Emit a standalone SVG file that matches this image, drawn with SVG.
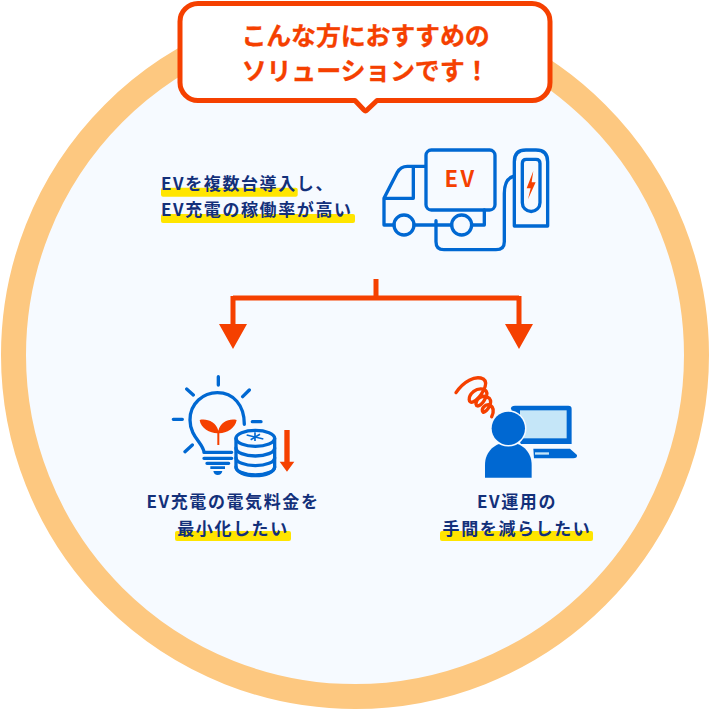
<svg xmlns="http://www.w3.org/2000/svg" width="710" height="710" viewBox="0 0 710 710">
<style>
text{font-family:"Noto Sans CJK JP","Noto Sans",sans-serif;font-weight:700}
.h{font-size:25px;fill:#f54000;letter-spacing:-.2px;text-anchor:middle;stroke:#f54000;stroke-width:.3px}
.t{font-size:17px;fill:#13307a;letter-spacing:1.6px}
.m{text-anchor:middle}
.y{fill:#ffe500}
.b{fill:none;stroke:#0068d2;stroke-width:10;stroke-linecap:round;stroke-linejoin:round}
.o{fill:#f54000}
</style>
<circle cx="355" cy="355" r="341.5" fill="#f6faff" stroke="#fdc880" stroke-width="25"/>
<g id="callout">
<path d="M198 3.500H532A18 18 0 0 1 550 21.500V82.500A18 18 0 0 1 532 100.500H377L367 110Q365.500 111.500 364 110L355 100.500H198A18 18 0 0 1 180 82.500V21.500A18 18 0 0 1 198 3.500Z" fill="#fff" stroke="#f54000" stroke-width="5" stroke-linejoin="round"/>
<text class="h" x="365.500" y="45">こんな方におすすめの</text>
<text class="h" x="365.500" y="80">ソリューションです！</text>
</g>
<g id="node-top">
<rect class="y" x="161" y="187.700" width="136.700" height="9" rx="2"/>
<rect class="y" x="161" y="214" width="194" height="9" rx="2"/>
<text class="t" x="161" y="190">EVを複数台導入し、</text>
<text class="t" x="161" y="216">EV充電の稼働率が高い</text>
<g id="truck" transform="translate(370 135) scale(.3333)">
<rect class="b" x="168" y="45" width="207" height="180" rx="16"/>
<path class="b" d="M165 94H112Q92 94 82 112L42 190V270H72M132 270H245M305 270H343V225M130 94V190H42"/>
<circle class="b" cx="102" cy="270" r="30"/>
<circle class="b" cx="275" cy="270" r="30"/>
<path class="b" d="M198 257V320Q198 344 222 344H378Q403 344 403 320V175Q403 132 430 124"/>
<path class="b" d="M433 273V80Q433 45 468 45H498Q533 45 533 80V273Z"/>
<path class="b" d="M457 85Q457 73 469 73H498Q510 73 510 85V203A26.500 26.500 0 0 1 457 203Z"/>
<path class="o" d="M490 108L470 160H482L474 193L497 142H485Z"/>
<text x="272" y="157" text-anchor="middle" style="font-size:66px;fill:#f54000;letter-spacing:8px">EV</text>
</g>
</g>
<g id="connectors">
<path d="M376 279V298M233 298H519" fill="none" stroke="#f54000" stroke-width="5"/>
<path d="M233 296V326M519 296V326" fill="none" stroke="#f54000" stroke-width="5"/>
<path class="o" d="M219 324H247L233 349ZM505 324H533L519 349Z"/>
</g>
<g id="node-left">
<rect class="y" x="175" y="531" width="116" height="10" rx="2"/>
<text class="t m" x="233" y="508">EV充電の電気料金を</text>
<text class="t m" x="233" y="535">最小化したい</text>
<g id="bulb" transform="translate(160 365) scale(.3333)">
<path class="b" d="M175 35V60M80 72L100 90M268 75L248 95M40 163H67M75 260L97 240M277 170H303"/>
<path class="b" d="M132 262C130 235 90 215 90 165C90 115 130 83 172 83C220 83 253 120 253 178M132 262H215M132 280H215M141 295H206"/>
<path d="M151 304H195V312H151ZM160 318H187Q185 330 173 330Q162 330 160 318Z" fill="#0068d2"/>
<path class="o" d="M172 205C150 204 122 190 119 165C140 160 168 170 175 197C182 170 208 160 230 165C226 190 200 204 178 205V240H172Z"/>
<path d="M228 220A58 24 0 0 1 344 220V306A58 26 0 0 1 228 306Z" fill="#f6faff" stroke="#0068d2" stroke-width="10"/>
<path class="b" d="M228 220A58 24 0 0 0 344 220M228 249A58 24 0 0 0 344 249M228 278A58 24 0 0 0 344 278M228 306A58 24 0 0 0 344 306"/>
<path d="M285 202V228M260 210L310 222M272 224L300 208" stroke="#0068d2" stroke-width="5" fill="none"/>
<path class="o" d="M373 195H389V290H403L381 320L359 290H373Z"/>
</g>
</g>
<g id="node-right">
<rect class="y" x="440" y="531" width="153" height="10" rx="2"/>
<text class="t m" x="517" y="508">EV運用の</text>
<text class="t m" x="517" y="535">手間を減らしたい</text>
<g id="person" transform="translate(440 365) scale(.3333)">
<path d="M213 130Q213 122 225 122H385Q395 122 395 132V237H242Z" fill="#0068d2"/>
<rect x="240" y="136" width="140" height="84" fill="#c5e6f8"/>
<path d="M280 251H390L411 270Q412 280 400 280H282Z" fill="#0068d2"/>
<rect x="285" y="262" width="42" height="7" fill="#c5e6f8"/>
<path d="M48 83C70 50 105 30 130 42C150 55 120 100 100 110C85 118 82 95 100 80C120 65 145 72 140 90C130 120 110 130 108 118C108 100 130 85 148 100C160 115 140 140 130 142C120 135 135 115 150 120C165 130 160 145 155 155" fill="none" stroke="#f54000" stroke-width="10" stroke-linecap="round" stroke-linejoin="round"/>
<path d="M135 338V300C135 260 165 232 205 232C245 232 275 260 275 300V338Z" fill="#0068d2" stroke="#f6faff" stroke-width="9" paint-order="stroke"/>
<circle cx="205" cy="190" r="50" fill="#0068d2" stroke="#f6faff" stroke-width="9" paint-order="stroke"/>
</g>
</g>
</svg>
